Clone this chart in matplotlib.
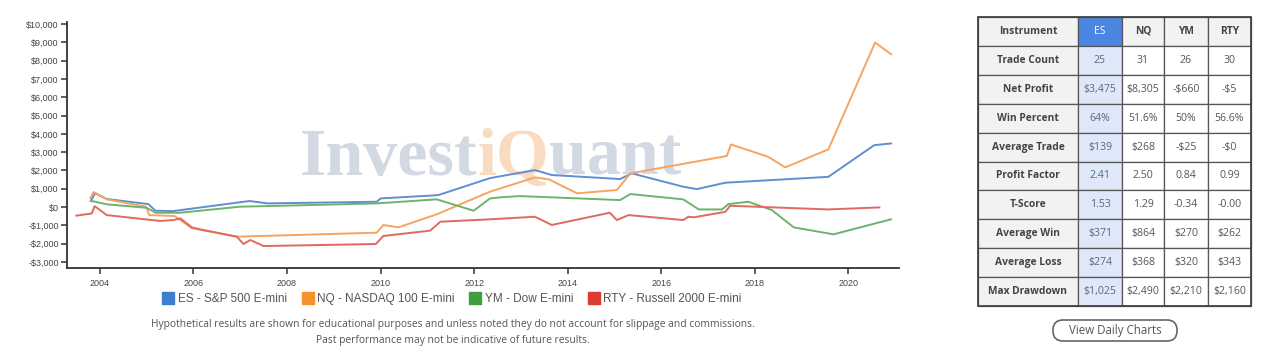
import matplotlib
matplotlib.use("Agg")
import matplotlib.pyplot as plt
from matplotlib.lines import Line2D
from matplotlib.patches import Rectangle, FancyBboxPatch
from matplotlib.offsetbox import TextArea, HPacker, AnchoredOffsetbox
from matplotlib.ticker import FuncFormatter

# ---------------- data ----------------
es_years = [2003.81, 2003.9, 2004.15, 2005.04, 2005.19, 2005.57, 2007.2, 2007.58, 2009.92, 2010.0,
            2011.23, 2012.34, 2013.3, 2013.66, 2015.12, 2015.37, 2016.47, 2016.76, 2017.37, 2019.57,
            2020.55, 2020.91]
es_vals = [330, 760, 440, 160, -200, -220, 330, 200, 290, 470,
           650, 1580, 2020, 1750, 1530, 1840, 1110, 980, 1330, 1650,
           3380, 3475]

nq_years = [2003.8, 2003.87, 2004.15, 2004.99, 2005.06, 2005.6, 2005.97, 2006.93, 2009.92, 2010.06,
            2010.38, 2011.2, 2012.34, 2013.3, 2013.6, 2014.2, 2015.05, 2015.34, 2017.4, 2017.49,
            2018.28, 2018.65, 2019.57, 2020.57, 2020.91]
nq_vals = [500, 820, 420, 20, -440, -490, -1160, -1620, -1400, -980,
           -1110, -400, 840, 1620, 1510, 750, 930, 1840, 2790, 3420,
           2750, 2170, 3150, 8990, 8350]

ym_years = [2003.81, 2004.15, 2005.0, 2005.2, 2005.72, 2007.0, 2007.86, 2009.92, 2011.2, 2011.99,
            2012.34, 2012.56, 2012.98, 2015.12, 2015.34, 2016.47, 2016.8, 2017.3, 2017.43, 2017.86,
            2018.36, 2018.83, 2019.68, 2020.91]
ym_vals = [340, 150, -40, -310, -310, 20, 70, 200, 420, -200,
           470, 530, 600, 380, 710, 420, -130, -130, 160, 290,
           -160, -1110, -1490, -670]

rty_years = [2003.5, 2003.83, 2003.89, 2004.15, 2005.29, 2005.58, 2005.72, 2005.97, 2006.15, 2006.93,
             2007.07, 2007.22, 2007.5, 2009.9, 2010.06, 2011.06, 2011.28, 2012.34, 2013.3, 2013.66,
             2014.9, 2015.05, 2015.3, 2016.47, 2016.58, 2016.7, 2017.37, 2017.47, 2019.57, 2020.66]
rty_vals = [-470, -350, 50, -440, -760, -710, -620, -1110, -1220, -1620,
            -2020, -1800, -2130, -2020, -1580, -1290, -800, -670, -530, -980,
            -310, -710, -440, -710, -530, -560, -260, 70, -130, -20]

series_labels = ["ES - S&P 500 E-mini", "NQ - NASDAQ 100 E-mini", "YM - Dow E-mini", "RTY - Russell 2000 E-mini"]
x_ticks = [2004, 2006, 2008, 2010, 2012, 2014, 2016, 2018, 2020]
y_ticks = list(range(-3000, 10001, 1000))

table_header = ["Instrument", "ES", "NQ", "YM", "RTY"]
row_labels = ["Trade Count", "Net Profit", "Win Percent", "Average Trade", "Profit Factor",
              "T-Score", "Average Win", "Average Loss", "Max Drawdown"]
trade_count = ["25", "31", "26", "30"]
net_profit = ["$3,475", "$8,305", "-$660", "-$5"]
win_percent = ["64%", "51.6%", "50%", "56.6%"]
average_trade = ["$139", "$268", "-$25", "-$0"]
profit_factor = ["2.41", "2.50", "0.84", "0.99"]
t_score = ["1.53", "1.29", "-0.34", "-0.00"]
average_win = ["$371", "$864", "$270", "$262"]
average_loss = ["$274", "$368", "$320", "$343"]
max_drawdown = ["$1,025", "$2,490", "$2,210", "$2,160"]
table_rows = [trade_count, net_profit, win_percent, average_trade, profit_factor,
              t_score, average_win, average_loss, max_drawdown]

footnote1 = "Hypothetical results are shown for educational purposes and unless noted they do not account for slippage and commissions."
footnote2 = "Past performance may not be indicative of future results."

# ---------------- style ----------------
W, H = 1279, 353
fig = plt.figure(figsize=(W / 100, H / 100), dpi=100)
fig.patch.set_facecolor("white")

line_colors = ["#5f8fd2", "#f7a460", "#6db36d", "#e06a60"]
legend_colors = ["#3f7dd0", "#f7922a", "#3f9e3f", "#dd3a32"]

def fx(px):
    return px / W

def fy(py):
    return 1 - py / H

ax_l, ax_r, ax_t, ax_b = 67, 899, 22, 268
ax = fig.add_axes([fx(ax_l), fy(ax_b), (ax_r - ax_l) / W, (ax_b - ax_t) / H])
ax.set_xlim(2003.3, 2021.08)
ax.set_ylim(-3330, 10110)

for yrs, vals, c in zip([es_years, nq_years, ym_years, rty_years],
                        [es_vals, nq_vals, ym_vals, rty_vals], line_colors):
    ax.plot(yrs, vals, color=c, lw=1.4, zorder=3, solid_joinstyle="round")

ax.set_xticks(x_ticks)
ax.set_xticklabels([str(t) for t in x_ticks])
ax.set_yticks(y_ticks)
ax.yaxis.set_major_formatter(FuncFormatter(lambda v, p: (f"${int(v):,}" if v >= 0 else f"-${int(-v):,}")))
for s in ["top", "right"]:
    ax.spines[s].set_visible(False)
for s in ["left", "bottom"]:
    ax.spines[s].set_color("#333333")
    ax.spines[s].set_linewidth(1.3)
ax.tick_params(axis="both", colors="#333333", length=4, width=1.1, labelsize=6.5,
               labelcolor="#444444", pad=2)
for lab in ax.get_xticklabels() + ax.get_yticklabels():
    lab.set_fontfamily("Liberation Sans")
ax.tick_params(axis="x", pad=4)

# watermark
parts = [("Invest", "#d3d9e3"), ("iQ", "#f9dbc2"), ("uant", "#d3d9e3")]
boxes = [TextArea(t, textprops=dict(color=c, fontsize=49, fontfamily="Liberation Serif",
                                     fontweight="bold")) for t, c in parts]
pack = HPacker(children=boxes, pad=0, sep=0, align="baseline")
wm = AnchoredOffsetbox(loc="center", child=pack, frameon=False, pad=0, borderpad=0,
                       bbox_to_anchor=(fx(491), fy(158)), bbox_transform=fig.transFigure)
wm.set_zorder(1)
ax.add_artist(wm)

# legend
handles = [Line2D([], [], marker="s", linestyle="none", markersize=9, markerfacecolor=c,
                  markeredgecolor=c) for c in legend_colors]
fig.legend(handles, series_labels, loc="center", bbox_to_anchor=(fx(452), fy(299)), ncol=4,
           frameon=False, handletextpad=0.3, columnspacing=1.25, handlelength=1.0,
           prop=dict(family="Liberation Sans", size=8.5), labelcolor="#555555")

fig.text(fx(453), fy(324), footnote1, ha="center", va="center", fontsize=7.4,
         fontfamily="Open Sans", color="#555555")
fig.text(fx(453), fy(340), footnote2, ha="center", va="center", fontsize=7.4,
         fontfamily="Open Sans", color="#555555")

# ---------------- table ----------------
ov = fig.add_axes([0, 0, 1, 1])
ov.set_xlim(0, W)
ov.set_ylim(H, 0)
ov.axis("off")
ov.patch.set_alpha(0)

col_edges = [978, 1078, 1122, 1164, 1208, 1251]
tab_top, row_h = 17, 28.9
all_rows = [table_header] + [[lab] + vals for lab, vals in zip(row_labels, table_rows)]
for r, row in enumerate(all_rows):
    y0 = tab_top + r * row_h
    for c, txt in enumerate(row):
        x0, x1 = col_edges[c], col_edges[c + 1]
        if r == 0 and c == 1:
            fc, tc, fw = "#4a86e2", "white", "normal"
        elif c == 1:
            fc, tc, fw = "#dfe8f8", "#5a6a80", "normal"
        elif c == 0 or r == 0:
            fc, tc, fw = "#f2f2f2", "#444444", "bold"
        else:
            fc, tc, fw = "white", "#555555", "normal"
        if r == 0 and c > 1:
            fw = "bold"
        ov.add_patch(Rectangle((x0, y0), x1 - x0, row_h, facecolor=fc, edgecolor="#555555", lw=0.9))
        fs = 7.4 if (c == 0 or r == 0) else 7.6
        ov.text((x0 + x1) / 2, y0 + row_h / 2, txt, ha="center", va="center", fontsize=fs,
                fontfamily="Open Sans", fontweight=fw, color=tc)
ov.add_patch(Rectangle((col_edges[0], tab_top), col_edges[-1] - col_edges[0], row_h * len(all_rows),
                       facecolor="none", edgecolor="#444444", lw=1.3))

# button
ov.add_patch(FancyBboxPatch((1053, 320), 124, 21, boxstyle="round,pad=0,rounding_size=10",
                            facecolor="white", edgecolor="#666666", lw=1.2))
ov.text(1115, 330.5, "View Daily Charts", ha="center", va="center", fontsize=8.3,
        fontfamily="Open Sans", color="#555555")

fig.savefig("out.png", dpi=100)
